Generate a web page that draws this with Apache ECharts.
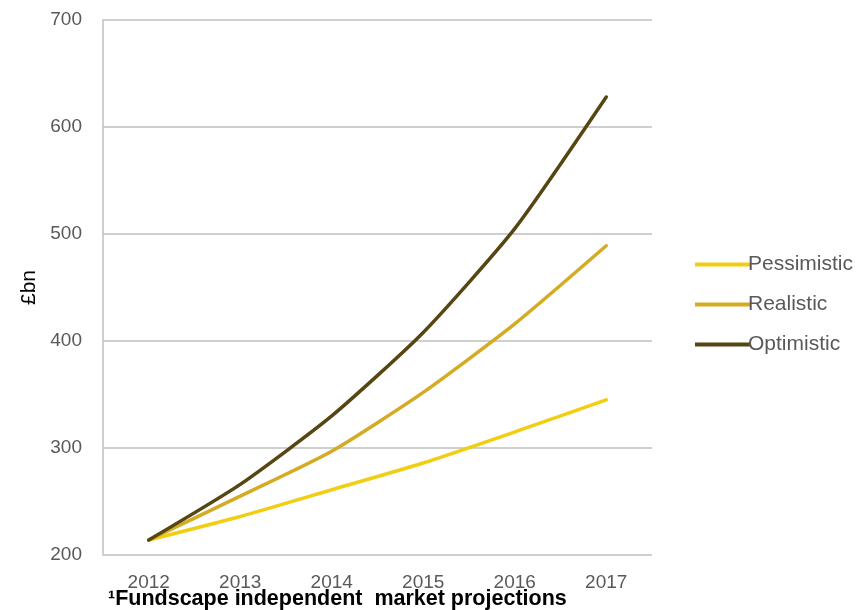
<!DOCTYPE html>
<html><head><meta charset="utf-8">
<script src="https://cdn.jsdelivr.net/npm/echarts@6/dist/echarts.min.js"></script>
<style>html,body{margin:0;padding:0;background:#fff}#c{width:863px;height:610px}</style>
</head><body><div id="c"></div>
<script>
const years = ['2012','2013','2014','2015','2016','2017'];
const pessimistic = [214, 236, 261, 286, 315, 345];
const realistic = [214, 255, 297, 352, 416, 489];
const optimistic = [214, 266, 330, 408, 505, 628];
const yTicks = [200, 300, 400, 500, 600, 700];

const chart = echarts.init(document.getElementById('c'));
const font = 'Liberation Sans, Arial, sans-serif';
function mk(name, data, color){
  return {name, type:'line', data, smooth:0.2, symbol:'none', lineStyle:{width:3.5, color, cap:'round'}, itemStyle:{color}};
}
chart.setOption({
  animation:false,
  grid:{left:103, right:211, top:20, bottom:55},
  xAxis:{type:'category', data:years, boundaryGap:true,
    axisLine:{show:false}, axisTick:{show:false},
    axisLabel:{color:'#595959', fontSize:19, fontFamily:font, margin:18}},
  yAxis:{type:'value', min:yTicks[0], max:yTicks[yTicks.length-1], interval:100,
    name:'£bn', nameLocation:'middle', nameGap:62, nameRotate:90,
    nameTextStyle:{color:'#000', fontSize:21, fontFamily:font},
    axisLine:{show:true, lineStyle:{color:'#BFBFBF', width:1.5}}, axisTick:{show:false},
    axisLabel:{color:'#595959', fontSize:19, fontFamily:font, margin:21},
    splitLine:{show:true, lineStyle:{color:'#BFBFBF', width:1.5}}},
  legend:{orient:'vertical', left:690, top:249, itemGap:19, itemWidth:56, itemHeight:4,
    icon:'rect', textStyle:{color:'#595959', fontSize:21, fontFamily:font, padding:[0,0,0,-8]},
    data:['Pessimistic','Realistic','Optimistic']},
  graphic:[{type:'text', left:108, top:588, style:{text:'¹Fundscape independent  market projections', fill:'#000', font:'bold 21.5px Liberation Sans, Arial, sans-serif'}}],
  series:[mk('Pessimistic', pessimistic, '#F2CE12'), mk('Realistic', realistic, '#D4AB22'), mk('Optimistic', optimistic, '#564612')]
});
</script></body></html>
